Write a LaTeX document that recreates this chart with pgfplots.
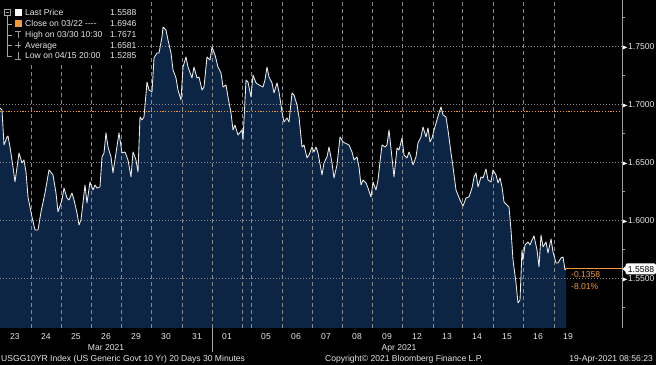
\documentclass[border=0pt]{standalone}
\usepackage{pgfplots}
\pgfplotsset{compat=1.18}
\usepackage{pgfplotstable}
\usepackage{fontspec}
\setmainfont{Liberation Sans}
\definecolor{navy}{HTML}{0C2544}
\definecolor{bbor}{HTML}{F39C34}
\definecolor{txt}{HTML}{E6E6E6}
\definecolor{gridc}{HTML}{8A8A8A}
\newcommand\fs{\fontsize{8.6}{9.5}\selectfont}
\newcommand\tri{\tikz[baseline=-0.5ex]\fill[white] (0,-2bp)--(4.5bp,0)--(0,2bp)--cycle;\hspace{1bp}}
\pgfplotstableread{
x y
0 1.6972
2 1.6955
4 1.6653
7 1.6722
8 1.6731
10 1.6636
13 1.6463
15 1.6334
19 1.6584
22 1.6498
24 1.6524
26 1.6420
28 1.6205
32 1.6032
35 1.5920
38 1.5920
41 1.6076
45 1.6239
49 1.6438
53 1.6394
56 1.6239
58 1.6076
62 1.6179
64 1.6282
67 1.6196
69 1.6179
72 1.6239
74 1.6179
77 1.6067
79 1.5963
81 1.6007
85 1.6308
87 1.6153
90 1.6334
93 1.6265
95 1.6308
97 1.6282
100 1.6291
102 1.6550
104 1.6584
106 1.6757
108 1.6636
111 1.6550
113 1.6412
116 1.6584
119 1.6757
122 1.6584
125 1.6593
128 1.6524
131 1.6377
133 1.6593
136 1.6524
138 1.6420
140 1.6894
142 1.6869
144 1.6894
147 1.7196
149 1.7127
152 1.7110
154 1.7403
157 1.7446
159 1.7446
162 1.7584
163 1.7670
166 1.7644
168 1.7558
171 1.7446
173 1.7300
176 1.7231
178 1.7127
181 1.7041
183 1.7325
186 1.7412
188 1.7325
192 1.7231
194 1.7325
197 1.7231
199 1.7239
202 1.7127
204 1.7153
207 1.7412
210 1.7386
212 1.7498
215 1.7429
218 1.7325
221 1.7274
223 1.7153
226 1.7170
228 1.7067
231 1.6929
233 1.6782
235 1.6825
238 1.6739
242 1.6782
243 1.6696
246 1.7213
248 1.7196
251 1.7067
253 1.7256
256 1.7188
259 1.7170
263 1.7153
265 1.7213
267 1.7325
269 1.7239
272 1.7188
274 1.7101
277 1.7188
279 1.7110
282 1.6938
284 1.6851
287 1.6886
289 1.6851
292 1.7101
294 1.7084
297 1.6998
299 1.6894
302 1.6636
304 1.6653
307 1.6541
309 1.6567
312 1.6636
314 1.6593
316 1.6636
318 1.6584
322 1.6394
324 1.6498
327 1.6550
329 1.6636
332 1.6498
334 1.6369
337 1.6481
340 1.6722
343 1.6679
345 1.6670
349 1.6653
352 1.6593
354 1.6524
357 1.6550
359 1.6463
361 1.6308
363 1.6351
366 1.6326
368 1.6282
371 1.6205
373 1.6334
376 1.6265
378 1.6351
380 1.6507
382 1.6653
385 1.6636
387 1.6653
389 1.6782
392 1.6541
394 1.6377
397 1.6627
399 1.6610
402 1.6713
404 1.6567
407 1.6541
409 1.6593
411 1.6550
413 1.6481
416 1.6550
418 1.6670
421 1.6722
423 1.6808
426 1.6722
428 1.6800
430 1.6679
432 1.6713
434 1.6782
437 1.6869
439 1.6929
441 1.6981
443 1.6912
446 1.6894
448 1.6782
451 1.6584
453 1.6463
456 1.6265
458 1.6222
460 1.6179
463 1.6127
466 1.6196
469 1.6205
472 1.6282
474 1.6377
476 1.6412
478 1.6291
481 1.6377
483 1.6369
486 1.6446
488 1.6351
491 1.6334
493 1.6438
496 1.6394
498 1.6326
500 1.6369
502 1.6291
504 1.6162
507 1.6136
509 1.6119
511 1.5920
513 1.5662
516 1.5464
518 1.5291
520 1.5317
522 1.5748
523 1.5662
525 1.5791
528 1.5817
530 1.5791
532 1.5834
534 1.5869
537 1.5748
539 1.5601
541 1.5877
543 1.5774
546 1.5817
548 1.5722
551 1.5843
553 1.5731
556 1.5636
558 1.5636
561 1.5679
563 1.5688
565 1.5576
566 1.5588
}\usgg
\begin{document}
\begin{tikzpicture}
\useasboundingbox (0,0) rectangle (656bp,365bp);
\fill[black] (0,0) rectangle (656bp,365bp);
\begin{axis}[at={(0,37bp)}, anchor=south west, scale only axis,
  width=622bp, height=328bp,
  xmin=0, xmax=622, ymin=1.5075, ymax=1.7903,
  axis line style={draw=none}, clip mode=individual,
  major tick length=0pt, tick style={draw=none},
  xtick={15,46,76,106,136,166,197,227,266,296,326,357,387,417,447,477,507,538,568},
  xticklabels={23,24,25,26,29,30,31,01,05,06,07,08,09,12,13,14,15,16,19},
  xticklabel style={anchor=base, inner sep=0pt, yshift=-12bp, font=\fs, text=txt},
  ytick={1.55,1.60,1.65,1.70,1.75},
  yticklabels={\tri1.5500,\tri1.6000,\tri1.6500,\tri1.7000,\tri1.7500},
  yticklabel pos=right,
  yticklabel style={anchor=west, inner sep=0pt, xshift=0.5bp, font=\fs, text=txt},
]
\addplot[fill=navy, draw=none] table {\usgg} \closedcycle;
\pgfplotsinvokeforeach{31,61,91,121,151,182,212,242,251,282,312,342,372,402,433,462,493,523,554}{
  \draw[gridc, dash pattern=on 4bp off 3bp, line width=0.5bp] (axis cs:#1,1.5075) -- (axis cs:#1,1.7903);}
\pgfplotsinvokeforeach{1.55,1.60,1.65,1.70,1.75}{
  \draw[gridc, dash pattern=on 1bp off 2bp, line width=0.5bp] (axis cs:0,#1) -- (axis cs:622,#1);}
\draw[bbor, dash pattern=on 1.2bp off 1.6bp, line width=0.8bp] (axis cs:0,1.6946) -- (axis cs:622,1.6946);
\addplot[color=white!85!gray, line width=0.85bp, line join=round] table {\usgg};
\draw[bbor, line width=0.7bp] (axis cs:566,1.5588) -- (axis cs:622,1.5588);
\end{axis}
\begin{scope}[x=1bp, y=-1bp, shift={(0,365bp)}, every node/.style={inner sep=0pt, text=txt, font=\fs}]
% right axis line and minor ticks
\draw[gray!75, line width=0.8bp] (622,0) -- (622,328);
\foreach \yy in {17.7,75.7,133.7,191.7,249.7,307.7}{\draw[gray!75, line width=0.6bp] (622,\yy) -- (625,\yy);}
% legend box
\fill[black] (0,0) rectangle (136,62);
\draw[gray!70, line width=0.5bp] (4.5,9.5) rectangle (10.5,15.5);
\draw[gray!70, line width=0.5bp] (6,12.5) -- (9,12.5);
\draw[gray!70, line width=0.5bp] (7.5,15.5) -- (7.5,56) -- (12,56);
\draw[gray!70, line width=0.5bp] (7.5,24) -- (12,24) (7.5,35) -- (12,35) (7.5,45.5) -- (12,45.5);
\fill[white] (15,9.5) rectangle (21.5,16);
\fill[bbor] (15,20.5) rectangle (21.5,27);
\draw[gray!80, line width=0.5bp] (15,31) -- (21,31) (18,31) -- (18,38);
\draw[gray!80, line width=0.5bp] (15,45.5) -- (21,45.5) (18,42.5) -- (18,48.5);
\draw[gray!80, line width=0.5bp] (15,59) -- (21,59) (18,52) -- (18,59);
\node[anchor=base west] at (25,16) {Last Price};
\node[anchor=base west] at (25,27) {Close on 03/22 -{}-{}-{}-};
\node[anchor=base west] at (25,38) {High on 03/30 10:30};
\node[anchor=base west] at (25,48.5) {Average};
\node[anchor=base west] at (25,59) {Low on 04/15 20:00};
\node[anchor=base west] at (110,16) {1.5588};
\node[anchor=base west] at (110,27) {1.6946};
\node[anchor=base west] at (110,38) {1.7671};
\node[anchor=base west] at (110,48.5) {1.6581};
\node[anchor=base west] at (110,59) {1.5285};
% last price tag
\fill[white, rounded corners=1.5bp] (625.5,263.5) rectangle (656,274.5);
\fill[white] (622.5,269) -- (626.5,265.5) -- (626.5,272.5) -- cycle;
\node[anchor=base, text=black] at (641,272.3) {1.5588};
\node[anchor=base west, text=bbor] at (571,278) {-0.1358};
\node[anchor=base west, text=bbor] at (571,289.5) {-8.01\%};
% month labels and separator
\draw[gray!70, line width=0.7bp] (212,328) -- (212,352);
\node[anchor=base] at (106,351) {Mar 2021};
\node[anchor=base] at (399,351) {Apr 2021};
% footer
\node[anchor=base west] at (1,362) {USGG10YR Index (US Generic Govt 10 Yr) 20 Days 30 Minutes};
\node[anchor=base west] at (325,362) {Copyright\textcopyright{} 2021 Bloomberg Finance L.P.};
\node[anchor=base east] at (653,362) {19-Apr-2021 08:56:23};
\end{scope}
\end{tikzpicture}
\end{document}
